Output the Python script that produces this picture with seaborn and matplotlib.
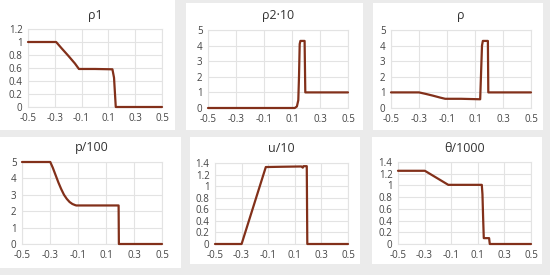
import numpy as np
import pandas as pd
import matplotlib
matplotlib.use("Agg")
import matplotlib.pyplot as plt
import seaborn as sns
from matplotlib.patches import Rectangle

# ---------------- data ----------------
titles = ["ρ1", "ρ2·10", "ρ", "p/100", "u/10", "θ/1000"]

x_rho1 = [-0.5, -0.29, -0.25, -0.2, -0.15, -0.12, 0.0, 0.13, 0.142, 0.155, 0.5]
rho1 = [1.0, 1.0, 0.905, 0.79, 0.67, 0.585, 0.585, 0.58, 0.45, 0.0, 0.0]

x_rho2 = [-0.5, 0.12, 0.135, 0.145, 0.15, 0.155, 0.16, 0.19, 0.195, 0.5]
rho2 = [0.0, 0.0, 0.1, 0.5, 2.0, 4.1, 4.3, 4.3, 1.0, 1.0]

x_rho = [-0.5, -0.3, -0.25, -0.2, -0.15, -0.113, 0.0, 0.137, 0.15, 0.156, 0.192, 0.195, 0.5]
rho = [1.0, 1.0, 0.9, 0.79, 0.67, 0.59, 0.59, 0.56, 4.0, 4.3, 4.3, 1.0, 1.0]

x_p = [-0.5, -0.298, -0.28, -0.26, -0.24, -0.22, -0.2, -0.18, -0.16, -0.14, -0.12, -0.112, 0.19, 0.192, 0.5]
p = [5.0, 5.0, 4.65, 4.2, 3.75, 3.35, 3.0, 2.75, 2.56, 2.44, 2.37, 2.35, 2.35, 0.0, 0.0]

x_u = [-0.5, -0.3, -0.118, 0.0, 0.15, 0.16, 0.165, 0.19, 0.194, 0.5]
u = [0.0, 0.0, 1.33, 1.335, 1.34, 1.32, 1.345, 1.345, 0.0, 0.0]

x_theta = [-0.5, -0.298, -0.122, 0.0, 0.13, 0.135, 0.14, 0.145, 0.185, 0.19, 0.5]
theta = [1.25, 1.25, 1.01, 1.01, 1.01, 0.85, 0.45, 0.1, 0.1, 0.0, 0.0]

xticks = [-0.5, -0.3, -0.1, 0.1, 0.3, 0.5]
xticklabels = ["-0.5", "-0.3", "-0.1", "0.1", "0.3", "0.5"]
yticks_small = [0, 0.2, 0.4, 0.6, 0.8, 1.0, 1.2]
yticklabels_small = ["0", "0.2", "0.4", "0.6", "0.8", "1", "1.2"]
yticks_big = [0, 1, 2, 3, 4, 5]
yticklabels_big = ["0", "1", "2", "3", "4", "5"]
yticks_14 = [0, 0.2, 0.4, 0.6, 0.8, 1.0, 1.2, 1.4]
yticklabels_14 = ["0", "0.2", "0.4", "0.6", "0.8", "1", "1.2", "1.4"]

series = [
    (x_rho1, rho1, yticks_small, yticklabels_small),
    (x_rho2, rho2, yticks_big, yticklabels_big),
    (x_rho, rho, yticks_big, yticklabels_big),
    (x_p, p, yticks_big, yticklabels_big),
    (x_u, u, yticks_14, yticklabels_14),
    (x_theta, theta, yticks_14, yticklabels_14),
]

# ---------------- layout (pixels) ----------------
W, H = 550, 275
panels = [(0, 0, 175, 130), (186, 3, 363, 130), (373, 3, 543, 130),
          (0, 137, 181, 268), (190, 137, 360, 264), (372, 137, 542, 264)]
axes_px = [(28, 29, 162, 107), (208, 30, 348, 108), (391, 30, 531, 108),
           (22, 162, 162, 244), (215, 163, 348, 244), (398, 162, 531, 244)]
title_y = [15, 15, 15, 148, 148, 148]

sns.set_theme(style="white")
plt.rcParams['font.family'] = ['Open Sans', 'DejaVu Sans']

fig = plt.figure(figsize=(W / 100, H / 100), dpi=100)
fig.patch.set_facecolor("#ebebeb")

line_color = "#82301a"

for i in range(6):
    x0, y0, x1, y1 = panels[i]
    fig.patches.append(Rectangle((x0 / W, 1 - y1 / H), (x1 - x0) / W, (y1 - y0) / H,
                                 transform=fig.transFigure, facecolor="white",
                                 edgecolor="none", zorder=-10))

for i in range(6):
    ax0, ay0, ax1, ay1 = axes_px[i]
    ax = fig.add_axes([ax0 / W, 1 - ay1 / H, (ax1 - ax0) / W, (ay1 - ay0) / H])
    ax.set_zorder(5)
    ax.set_facecolor("none")
    xs, ys, yt, ytl = series[i]
    df = pd.DataFrame({"x": xs, "y": ys})
    sns.lineplot(data=df, x="x", y="y", ax=ax, sort=False, estimator=None,
                 color=line_color, linewidth=1.6, zorder=5)
    for l in ax.lines:
        l.set_clip_on(False)
    ax.set_xlim(-0.5, 0.5)
    ax.set_ylim(yt[0], yt[-1])
    ax.set_xticks(xticks)
    ax.set_xticklabels(xticklabels)
    ax.set_yticks(yt)
    ax.set_yticklabels(ytl)
    ax.grid(True, color="#e3e3e3", linewidth=0.8)
    for s in ax.spines.values():
        s.set_visible(True)
        s.set_color("#e3e3e3")
        s.set_linewidth(0.8)
    ax.tick_params(axis="both", labelsize=7, colors="#555555", length=2.5,
                   width=0.6, pad=1.5, labelcolor="#444444")
    ax.set_xlabel("")
    ax.set_ylabel("")
    fig.text((ax0 + ax1) / 2 / W, 1 - title_y[i] / H, titles[i], ha="center",
             va="center", fontsize=9, color="#333333")

fig.savefig("out.png", dpi=100, facecolor=fig.get_facecolor())
